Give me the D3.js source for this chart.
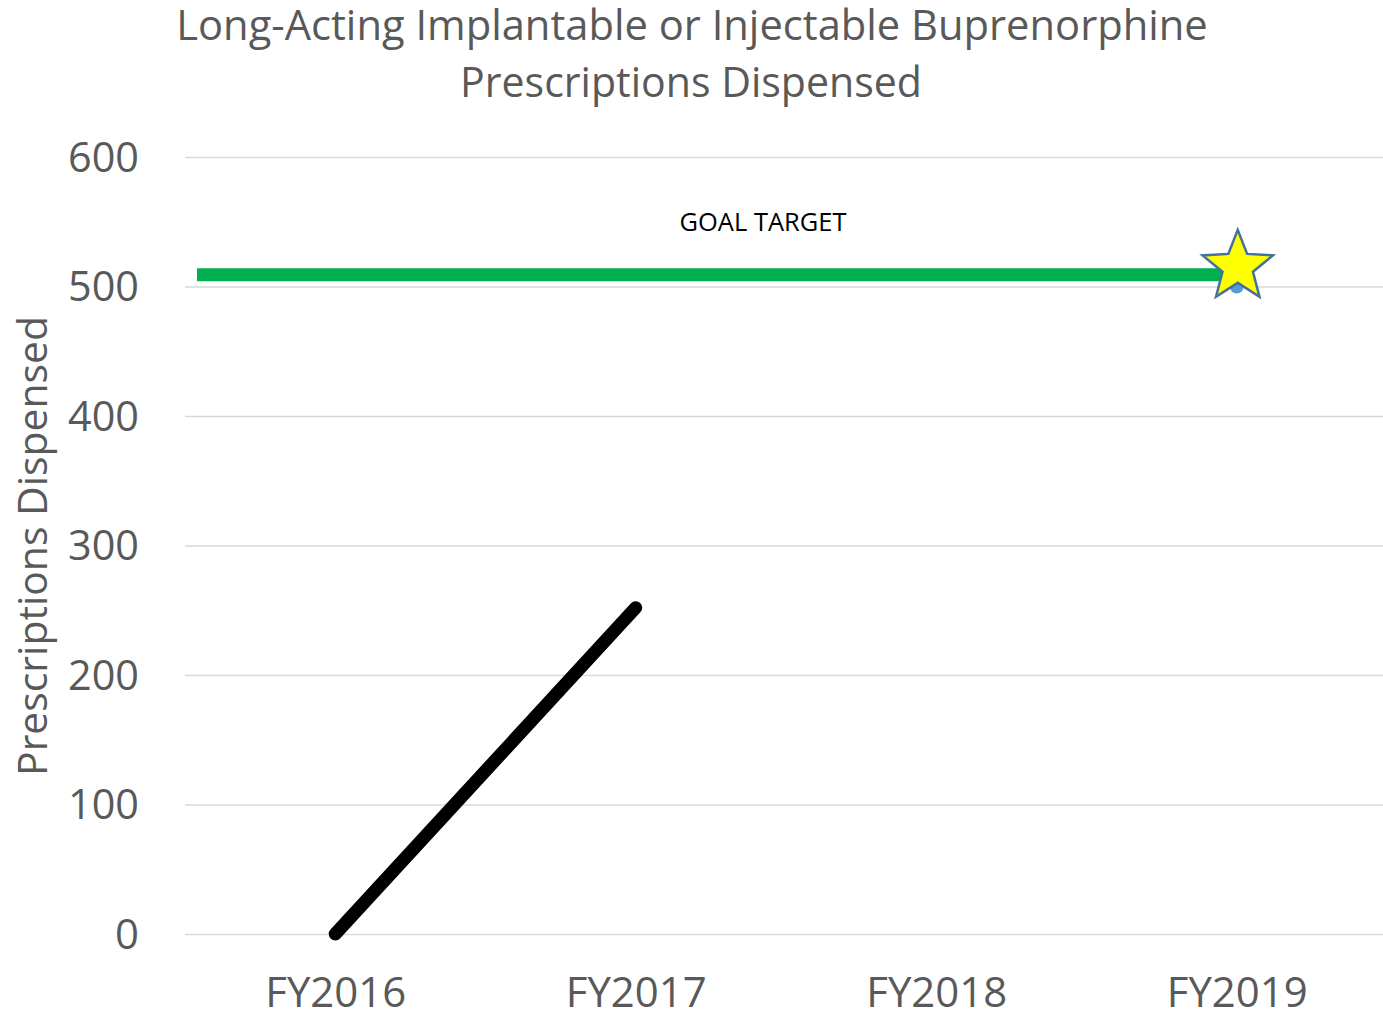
<!DOCTYPE html>
<html>
<head>
<meta charset="utf-8">
<script src="https://cdn.jsdelivr.net/npm/d3@7"></script>
<style>
  html, body { margin: 0; padding: 0; background: #fff; }
  svg { display: block; }
  text { font-family: "Open Sans", "Noto Sans", sans-serif; }
</style>
</head>
<body>
<svg id="chart" width="1383" height="1016"></svg>
<script>
// ---- data ----
const categories = ["FY2016", "FY2017", "FY2018", "FY2019"];
const actualValues = [0, 252];            // FY2016, FY2017
const targetPointValue = [null, null, null, 500]; // blue marker under the star
const goalValue = 509;                    // green goal line
const goalFromIndex = -0.46;              // goal line starts left of FY2016
const goalToIndex = 3;                    // ends at FY2019
const yTicks = [0, 100, 200, 300, 400, 500, 600];
const titleLines = ["Long-Acting Implantable or Injectable Buprenorphine", "Prescriptions Dispensed"];
const yAxisTitle = "Prescriptions Dispensed";
const goalLabel = "GOAL TARGET";

const svg = d3.select("#chart");
const grey = "#595959";

const x = d3.scalePoint().domain(categories).range([185, 1387]).padding(0.5);
const step = x.step();
const xIdx = d3.scaleLinear().domain([0, 1]).range([x(categories[0]), x(categories[0]) + step]);
const y = d3.scaleLinear().domain([0, 600]).range([934, 157]);

function fit(sel, w) {
  const len = sel.node().getComputedTextLength();
  const fs = parseFloat(sel.attr("font-size"));
  sel.attr("font-size", fs * w / len);
}

// gridlines
const yAxis = d3.axisLeft(y).tickValues(yTicks).tickSize(0).tickPadding(0);
const gy = svg.append("g").attr("transform", "translate(185,0)").call(yAxis);
gy.select(".domain").remove();
gy.selectAll(".tick line").remove();
gy.selectAll(".tick").append("line")
  .attr("x1", 0).attr("x2", 1383 - 185)
  .attr("stroke", "#D9D9D9").attr("stroke-width", 1.5);
gy.selectAll(".tick text")
  .attr("x", -46).attr("dy", null).attr("y", 14)
  .attr("fill", grey).attr("font-size", 41)
  .attr("font-family", "'Open Sans', sans-serif")
  .attr("text-anchor", "end");
gy.selectAll(".tick text").each(function() {
  const t = d3.select(this);
  const n = t.text().length;
  fit(t, n === 1 ? 24 : n === 3 ? 71 : 71);
});

// x axis labels
const xAxis = d3.axisBottom(x).tickSize(0).tickPadding(0);
const gx = svg.append("g").attr("transform", "translate(0,0)").call(xAxis);
gx.select(".domain").remove();
gx.selectAll(".tick text")
  .attr("y", 1007).attr("dy", null)
  .attr("fill", grey).attr("font-size", 38)
  .attr("font-family", "'Open Sans', sans-serif");
gx.selectAll(".tick text").each(function() { fit(d3.select(this), 141); });

// goal line
svg.append("line")
  .attr("x1", xIdx(goalFromIndex)).attr("x2", xIdx(goalToIndex))
  .attr("y1", y(goalValue)).attr("y2", y(goalValue))
  .attr("stroke", "#00B050").attr("stroke-width", 13);

// actual line
const line = d3.line().x((d, i) => x(categories[i])).y(d => y(d));
svg.append("path")
  .datum(actualValues)
  .attr("d", line)
  .attr("fill", "none")
  .attr("stroke", "#000").attr("stroke-width", 13)
  .attr("stroke-linecap", "round").attr("stroke-linejoin", "round");

// target marker (blue dot)
svg.selectAll(".tp").data(targetPointValue.map((v, i) => ({v, c: categories[i]})).filter(d => d.v != null))
  .enter().append("circle")
  .attr("cx", d => x(d.c)).attr("cy", d => y(d.v)).attr("r", 7)
  .attr("fill", "#5B9BD5");

// star
function starPath(cx, cy, R, r) {
  const pts = [];
  for (let i = 0; i < 10; i++) {
    const a = -Math.PI / 2 + i * Math.PI / 5;
    const rr = i % 2 === 0 ? R : r;
    pts.push([cx + rr * Math.cos(a), cy + rr * Math.sin(a)]);
  }
  return "M" + pts.map(p => p.join(",")).join("L") + "Z";
}
svg.append("path")
  .attr("d", starPath(x(categories[3]) + 1, y(goalValue) - 8, 37, 16))
  .attr("fill", "#FFFF00").attr("stroke", "#41719C").attr("stroke-width", 2.5)
  .attr("stroke-linejoin", "miter");

// goal label
const gl = svg.append("text")
  .attr("x", 763).attr("y", 231).attr("text-anchor", "middle")
  .attr("fill", "#000").attr("font-size", 22).text(goalLabel);
fit(gl, 167);

// title
const t1 = svg.append("text").attr("x", 692).attr("y", 40).attr("text-anchor", "middle")
  .attr("fill", grey).attr("font-size", 38).text(titleLines[0]);
fit(t1, 1032);
const t2 = svg.append("text").attr("x", 691).attr("y", 97).attr("text-anchor", "middle")
  .attr("fill", grey).attr("font-size", 38).text(titleLines[1]);
fit(t2, 462);

// y axis title
const yt = svg.append("text")
  .attr("transform", "translate(47,546) rotate(-90)")
  .attr("text-anchor", "middle").attr("fill", grey).attr("font-size", 38)
  .text(yAxisTitle);
fit(yt, 460);
</script>
</body>
</html>
